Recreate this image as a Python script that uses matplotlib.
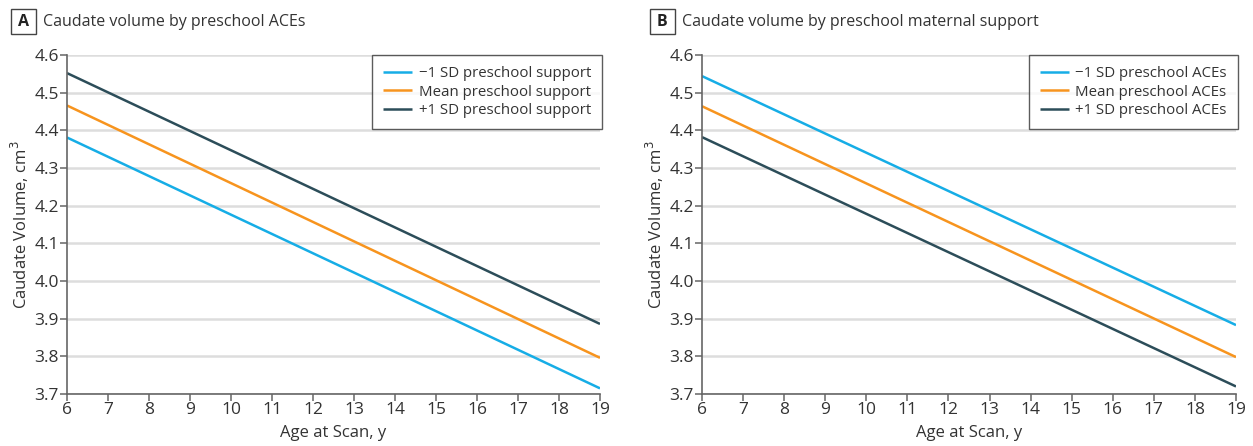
import numpy as np
import matplotlib
matplotlib.use("Agg")
import matplotlib.pyplot as plt

# age range of the fitted lines
ages = [6, 19]

# panel A: caudate volume by preschool ACEs, lines for maternal support levels
labels_a = ["\u22121 SD preschool support", "Mean preschool support", "+1 SD preschool support"]
low_a = [4.381, 3.715]
mean_a = [4.466, 3.796]
high_a = [4.552, 3.886]

# panel B: caudate volume by preschool maternal support, lines for ACE levels
labels_b = ["\u22121 SD preschool ACEs", "Mean preschool ACEs", "+1 SD preschool ACEs"]
low_b = [4.544, 3.883]
mean_b = [4.464, 3.798]
high_b = [4.382, 3.720]

colors = ["#16ADE6", "#F7941E", "#2C4D59"]
plt.rcParams["font.family"] = ["Open Sans", "DejaVu Sans"]

fig = plt.figure(figsize=(12.53, 4.46), dpi=100)
W, H = 1253, 446
axA = fig.add_axes([67 / W, 1 - 394 / H, 533 / W, 339 / H])
axB = fig.add_axes([702 / W, 1 - 394 / H, 534 / W, 339 / H])

panels = [
    (axA, "A", "Caudate volume by preschool ACEs", labels_a, [low_a, mean_a, high_a], 11),
    (axB, "B", "Caudate volume by preschool maternal support", labels_b, [low_b, mean_b, high_b], 650),
]

for ax, letter, title, labels, series, tx in panels:
    for vals, lab, c in zip(series, labels, colors):
        ax.plot(ages, vals, color=c, lw=1.8, label=lab, solid_capstyle="butt")
    ax.set_xlim(6, 19)
    ax.set_ylim(3.7, 4.6)
    ax.set_xticks(range(6, 20))
    ax.set_yticks(np.arange(3.7, 4.61, 0.1))
    ax.set_yticklabels([f"{v:.1f}" for v in np.arange(3.7, 4.61, 0.1)])
    ax.grid(axis="y", color="#DDDDDD", lw=1.8)
    ax.set_axisbelow(True)
    for s in ["top", "right"]:
        ax.spines[s].set_visible(False)
    for s in ["left", "bottom"]:
        ax.spines[s].set_color("#666666")
        ax.spines[s].set_linewidth(1.2)
    ax.tick_params(colors="#666666", labelcolor="#333333", labelsize=12.5, length=5, width=1.1, pad=1)
    ax.set_ylabel("Caudate Volume, cm$^3$", fontsize=12, color="#333333", labelpad=2)
    ax.set_xlabel("Age at Scan, y", fontsize=12, color="#333333", labelpad=5)
    leg = ax.legend(loc="upper right", bbox_to_anchor=(1.004, 1.0), fontsize=10.8, frameon=True,
                    fancybox=False, handlelength=1.9, borderpad=0.75, labelspacing=0.22,
                    handletextpad=0.45, borderaxespad=0)
    leg.get_frame().set_edgecolor("#333333")
    leg.get_frame().set_linewidth(1.0)
    for t in leg.get_texts():
        t.set_color("#333333")
    # letter box for the panel
    box = plt.Rectangle((tx / W, 1 - 34 / H), 25 / W, 25 / H, transform=fig.transFigure,
                        fill=False, ec="#444444", lw=1.0)
    fig.add_artist(box)
    fig.text((tx + 12.5) / W, 1 - 21.5 / H, letter, fontsize=11.5, fontweight="bold",
             va="center", ha="center", color="#222222")
    fig.text((tx + 32) / W, 1 - 21.5 / H, title, fontsize=11.5, va="center", ha="left", color="#333333")

fig.savefig("out.png", dpi=100)
